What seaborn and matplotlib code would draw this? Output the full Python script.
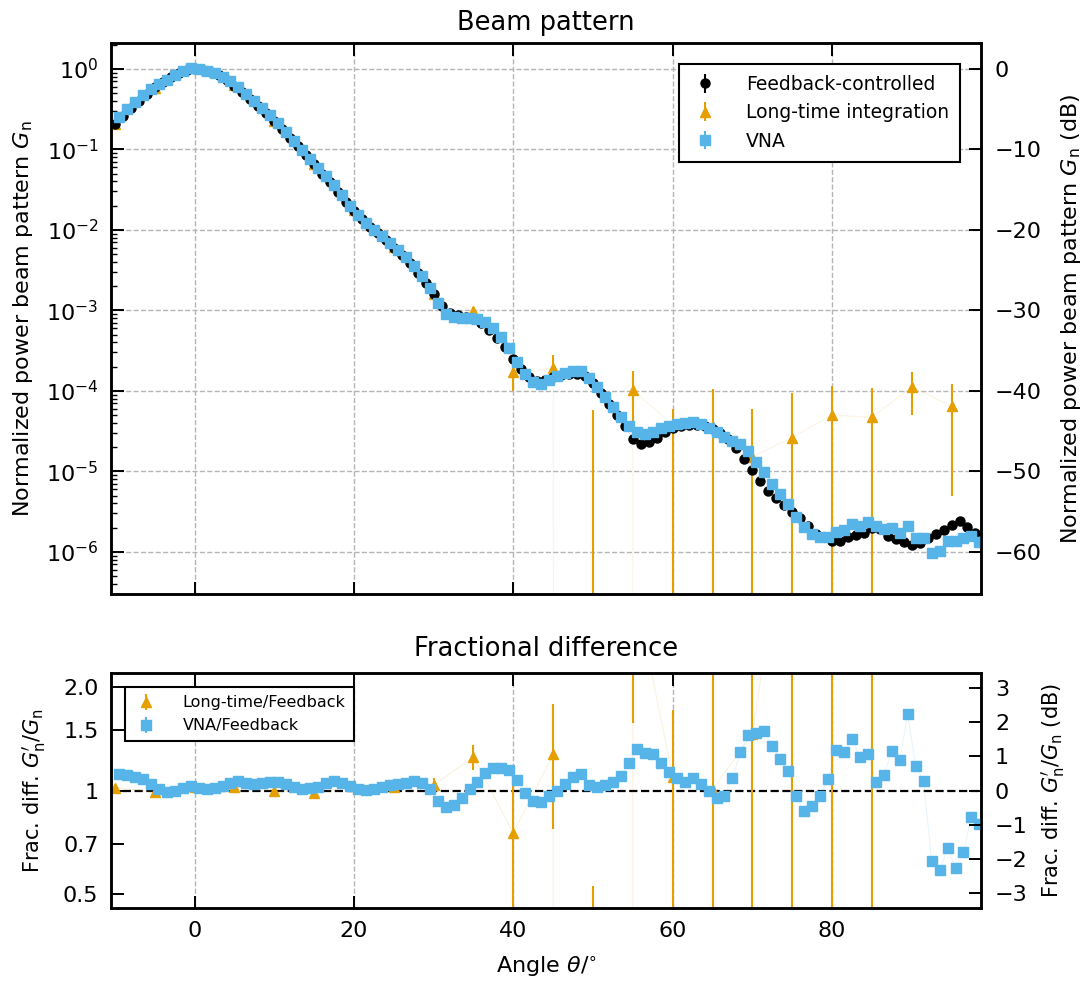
import numpy as np
import matplotlib
matplotlib.use('Agg')
import matplotlib.pyplot as plt
from matplotlib.ticker import NullLocator, FixedLocator, LogLocator
import seaborn as sns

# ---------------- data ----------------
# feedback-controlled beam pattern, 1 deg steps from -10 to 98 (dB)
angle_fb = np.arange(-10, 99, 1.0)
feedback_db = [
    -6.9, -5.9, -4.9, -4.0, -3.1, -2.3, -1.6, -1.0, -0.5, -0.15,
    0.0, -0.1, -0.4, -0.8, -1.4, -2.1, -2.9, -3.7, -4.6, -5.5,
    -6.5, -7.5, -8.6, -9.6, -10.7, -11.8, -13.0, -14.1, -15.3, -16.5,
    -17.7, -18.7, -19.6, -20.4, -21.3, -22.2, -23.1, -24.1, -25.3, -26.6,
    -28.0, -29.5, -30.3, -30.6, -30.8, -31.1, -31.6, -32.4, -33.4, -34.6,
    -36.0, -37.3, -38.3, -38.8, -38.7, -38.3, -38.0, -37.9, -37.9, -38.2,
    -39.0, -40.2, -41.6, -43.0, -44.4, -46.0, -46.6, -46.4, -45.8, -45.1,
    -44.6, -44.3, -44.2, -44.2, -44.4, -44.7, -45.2, -46.0, -47.1, -48.4,
    -49.8, -51.2, -52.4, -53.3, -54.2, -55.1, -55.8, -56.8, -57.8, -58.2,
    -58.7, -58.6, -58.1, -57.9, -57.6, -57.0, -57.1, -58.0, -58.4, -58.8,
    -59.1, -58.9, -58.3, -57.8, -57.3, -56.6, -56.1, -56.9, -57.6,
]

# VNA beam pattern, half-degree offsets from -9.5 to 98.5 (dB)
angle_vna = np.arange(-9.5, 99, 1.0)
vna_db = [
    -5.93, -4.96, -4.05, -3.21, -2.52, -1.92, -1.34, -0.76, -0.27, 0.06,
    0.03, -0.22, -0.52, -0.97, -1.53, -2.21, -3.08, -3.95, -4.83, -5.75,
    -6.75, -7.85, -8.99, -10.10, -11.17, -12.29, -13.33, -14.43, -15.68, -16.97,
    -18.15, -19.14, -19.95, -20.75, -21.60, -22.47, -23.38, -24.43, -25.73, -27.27,
    -29.06, -30.39, -30.86, -30.91, -30.92, -31.11, -31.48, -32.24, -33.34, -34.71,
    -36.35, -37.87, -38.86, -39.08, -38.67, -38.17, -37.76, -37.51, -37.58, -38.45,
    -39.49, -40.75, -42.06, -43.28, -44.39, -45.08, -45.40, -45.05, -44.64, -44.31,
    -44.08, -44.00, -43.83, -44.12, -44.55, -45.16, -45.77, -46.18, -46.63, -47.48,
    -48.81, -50.07, -51.55, -52.82, -54.09, -55.62, -56.90, -57.76, -58.17, -58.10,
    -57.47, -57.22, -56.51, -56.77, -56.25, -56.80, -57.10, -57.05, -57.71, -56.73,
    -58.29, -58.33, -60.09, -59.88, -58.63, -58.60, -58.30, -58.02, -58.80,
]

# VNA / feedback ratio (dB)
ratio_vna_db = [
    0.47, 0.44, 0.40, 0.34, 0.18, 0.03, -0.04, -0.01, 0.06, 0.13,
    0.08, 0.03, 0.08, 0.13, 0.22, 0.29, 0.22, 0.20, 0.22, 0.25,
    0.25, 0.20, 0.11, 0.05, 0.08, 0.11, 0.22, 0.27, 0.22, 0.13,
    0.05, 0.01, 0.05, 0.10, 0.15, 0.18, 0.22, 0.27, 0.22, 0.03,
    -0.31, -0.49, -0.41, -0.21, 0.03, 0.24, 0.52, 0.66, 0.66, 0.59,
    0.30, -0.07, -0.31, -0.33, -0.17, -0.02, 0.19, 0.39, 0.47, 0.15,
    0.11, 0.15, 0.24, 0.42, 0.81, 1.22, 1.10, 1.05, 0.81, 0.54,
    0.37, 0.25, 0.37, 0.18, 0.00, -0.21, -0.17, 0.37, 1.12, 1.62,
    1.69, 1.73, 1.30, 0.93, 0.56, -0.17, -0.60, -0.46, -0.17, 0.35,
    1.18, 1.13, 1.49, 0.98, 1.05, 0.25, 0.45, 1.15, 0.89, 2.22,
    0.71, 0.27, -2.04, -2.33, -1.68, -2.25, -1.80, -0.77, -0.99,
]

# long-time integration, every 5 deg (dB); nan = value/bound below zero
angle_lt = np.arange(-10, 96, 5.0)
lt_db = [-6.82, -2.34, 0.1, -1.99, -6.52, -11.87, -17.58, -22.1, -28.0, -30.1, -37.7,
         -37.2, np.nan, -39.9, -44.2, -44.5, -48.2, -45.8, -43.0, -43.3, -39.5, -41.9]
lt_lo_db = [-7.1, -2.6, -0.2, -2.3, -6.8, -12.2, -17.9, -22.4, -28.3, -30.4, -40.0,
            -39.2, np.nan, -44.2, np.nan, np.nan, np.nan, np.nan, np.nan, np.nan, -43.0, -53.0]
lt_hi_db = [-6.55, -2.1, 0.35, -1.7, -6.25, -11.6, -17.3, -21.8, -27.6, -29.6, -36.7,
            -35.6, -42.4, -37.5, -42.2, -39.8, -42.2, -40.3, -39.4, -39.7, -37.7, -39.1]

# long-time / feedback ratio (dB)
ratio_lt_db = [0.08, -0.04, 0.10, 0.11, -0.02, -0.07, 0.12, 0.10, 0.15, 0.98, -1.24,
               1.05, np.nan, 6.1, 0.40, 0.02, 1.65, 9.3, 15.7, 13.7, 19.6, 14.7]
ratio_lt_lo_db = [0.0, -0.12, 0.02, 0.03, -0.10, -0.15, 0.04, 0.02, -0.02, 0.61, np.nan,
                  -1.12, np.nan, 1.98, np.nan, np.nan, np.nan, np.nan, np.nan, np.nan, 16.1, 3.6]
ratio_lt_hi_db = [0.16, 0.04, 0.18, 0.19, 0.06, 0.01, 0.20, 0.18, 0.37, 1.32, 0.61,
                  2.53, -2.78, 8.0, 2.34, 6.0, 8.0, 12.0, 19.0, 17.0, 21.4, 17.5]


def to_lin(db, fill):
    db = np.asarray(db, dtype=float)
    return np.where(np.isnan(db), fill, 10 ** (db / 10))


orange = '#E69F00'
blue = '#56B4E9'

sns.set_theme(style='ticks')
plt.rcParams['font.family'] = ['DejaVu Sans']
plt.rcParams['mathtext.fontset'] = 'dejavusans'
for key in ['text.color', 'axes.labelcolor', 'xtick.color', 'ytick.color', 'axes.edgecolor']:
    plt.rcParams[key] = 'black'
plt.rcParams['axes.linewidth'] = 1.8

fs_lab = 16
fs_tick = 16

fig = plt.figure(figsize=(10.87, 9.9), dpi=100)
ax1 = fig.add_axes([0.1021, 0.4, 0.8004, 0.5566])
ax2 = fig.add_axes([0.1021, 0.0828, 0.8004, 0.2374], sharex=ax1)

fb = to_lin(feedback_db, np.nan)
vna = to_lin(vna_db, np.nan)
lt = to_lin(lt_db, -1e-5)
lt_lo = to_lin(lt_lo_db, -1.0)
lt_hi = to_lin(lt_hi_db, np.nan)

# ---------------- top panel ----------------
for xx, yy, cc in [(angle_lt, lt, orange), (angle_fb, fb, 'k'), (angle_vna, vna, blue)]:
    sns.lineplot(x=xx, y=yy, ax=ax1, color=cc, lw=0.7, alpha=0.12,
                 estimator=None, sort=False, legend=False)

eb_lt = ax1.errorbar(angle_lt, lt, yerr=[lt - lt_lo, lt_hi - lt], fmt='^', color=orange,
                     ms=7, elinewidth=1.5, capsize=0, zorder=2, label='Long-time integration')
eb_fb = ax1.errorbar(angle_fb, fb, yerr=fb * 0.0, fmt='o', color='black', ms=6.5,
                     elinewidth=1.5, capsize=0, zorder=3, label='Feedback-controlled')
eb_vna = ax1.errorbar(angle_vna, vna, yerr=vna * 0.0, fmt='s', color=blue, ms=6.5,
                      elinewidth=1.5, capsize=0, zorder=4, label='VNA')

ax1.set_yscale('log')
top_lim = (3.0e-7, 2.1)
ax1.set_ylim(*top_lim)
ax1.set_xlim(-10.5, 98.7)
ax1.yaxis.set_major_locator(LogLocator(base=10, numticks=20))
ax1.yaxis.set_minor_locator(LogLocator(base=10, subs=np.arange(2, 10), numticks=20))
ax1.xaxis.set_major_locator(FixedLocator([0, 20, 40, 60, 80]))
ax1.grid(True, which='major', ls='--', color='#b5b5b5', lw=1.0)
ax1.tick_params(axis='both', which='major', direction='in', length=9, width=1.4,
                labelsize=fs_tick, top=True, right=False, labelbottom=False, pad=9)
ax1.tick_params(axis='y', which='minor', direction='in', length=4.5, width=1.0, right=False)
ax1.set_ylabel('Normalized power beam pattern $G_\\mathrm{n}$', fontsize=fs_lab, labelpad=8)
ax1.set_title('Beam pattern', fontsize=18.5, pad=9)

ax1r = ax1.twinx()
ax1r.set_ylim(10 * np.log10(top_lim[0]), 10 * np.log10(top_lim[1]))
ax1r.set_yticks(np.arange(-60, 1, 10))
ax1r.tick_params(axis='y', direction='in', length=9, width=1.4, labelsize=fs_tick, pad=10)
ax1r.set_ylabel('Normalized power beam pattern $G_\\mathrm{n}$ (dB)', fontsize=fs_lab, labelpad=12)

leg1 = ax1.legend(handles=[eb_fb, eb_lt, eb_vna], loc='upper right', fontsize=13.5,
                  fancybox=False, framealpha=1, edgecolor='black', borderaxespad=1.1,
                  handlelength=1.6, handletextpad=1.4, borderpad=0.6, labelspacing=0.5)
leg1.get_frame().set_linewidth(1.5)
leg1.set_zorder(10)

# ---------------- bottom panel ----------------
r_vna = to_lin(ratio_vna_db, np.nan)
r_lt = to_lin(ratio_lt_db, -1e-3)
r_lt_lo = to_lin(ratio_lt_lo_db, -1.0)
r_lt_hi = to_lin(ratio_lt_hi_db, np.nan)

for xx, yy, cc in [(angle_lt, r_lt, orange), (angle_vna, r_vna, blue)]:
    sns.lineplot(x=xx, y=yy, ax=ax2, color=cc, lw=0.7, alpha=0.15,
                 estimator=None, sort=False, legend=False)

ax2.axhline(1.0, color='black', ls='--', lw=1.6, zorder=1)
eb2_lt = ax2.errorbar(angle_lt, r_lt, yerr=[r_lt - r_lt_lo, r_lt_hi - r_lt], fmt='^',
                      color=orange, ms=7, elinewidth=1.5, capsize=0, zorder=2,
                      label='Long-time/Feedback')
eb2_vna = ax2.errorbar(angle_vna, r_vna, yerr=r_vna * 0.0, fmt='s', color=blue, ms=6.5,
                       elinewidth=1.5, capsize=0, zorder=4, label='VNA/Feedback')

ax2.set_yscale('log')
bot_lim = (1 / 2.2, 2.2)
ax2.set_ylim(*bot_lim)
ax2.yaxis.set_major_locator(FixedLocator([0.5, 0.7, 1.0, 1.5, 2.0]))
ax2.yaxis.set_minor_locator(NullLocator())
ax2.set_yticklabels(['0.5', '0.7', '1', '1.5', '2.0'])
ax2.xaxis.grid(True, ls='--', color='#b5b5b5', lw=1.0)
ax2.tick_params(axis='both', which='major', direction='in', length=9, width=1.4,
                labelsize=fs_tick, top=True, right=False, pad=9)
ax2.set_ylabel('Frac. diff. $G^{\\prime}_\\mathrm{n}/G_\\mathrm{n}$', fontsize=15, labelpad=11)
ax2.set_xlabel('Angle $\\theta/^{\\circ}$', fontsize=fs_lab, labelpad=10)
ax2.set_title('Fractional difference', fontsize=18.5, pad=12)

ax2r = ax2.twinx()
ax2r.set_ylim(10 * np.log10(bot_lim[0]), 10 * np.log10(bot_lim[1]))
ax2r.set_yticks(np.arange(-3, 4, 1))
ax2r.tick_params(axis='y', direction='in', length=9, width=1.4, labelsize=fs_tick, pad=10)
ax2r.set_ylabel('Frac. diff. $G^{\\prime}_\\mathrm{n}/G_\\mathrm{n}$ (dB)', fontsize=15, labelpad=8)

leg2 = ax2.legend(handles=[eb2_lt, eb2_vna], loc='upper left', fontsize=11.5,
                  fancybox=False, framealpha=1, edgecolor='black', borderaxespad=0.9,
                  handlelength=1.6, handletextpad=1.5, borderpad=0.5, labelspacing=0.5)
leg2.get_frame().set_linewidth(1.5)
leg2.set_zorder(10)

for a in (ax1, ax2, ax1r, ax2r):
    for s in a.spines.values():
        s.set_linewidth(1.8)
        s.set_color('black')

fig.savefig('out.png', dpi=100)
